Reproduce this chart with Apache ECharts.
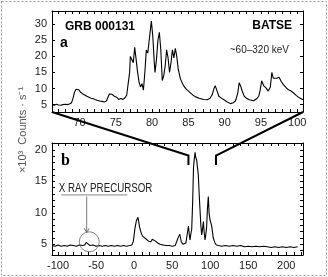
<!DOCTYPE html>
<html><head><meta charset="utf-8">
<script src="https://cdn.jsdelivr.net/npm/echarts@6/dist/echarts.min.js"></script>
<style>html,body{margin:0;padding:0;background:#fff}#c{width:328px;height:277px}</style>
</head><body><div id="c"></div>
<script>
// Panel a: zoom-in, time (s) and counts (x10^3 /s)
var topTime = [66.2,66.5,66.8,67.1,67.4,67.7,68.0,68.3,68.6,68.9,69.1,69.3,69.5,69.7,69.9,70.1,70.4,70.7,71.0,71.3,71.6,71.9,72.2,72.5,72.8,73.1,73.4,73.7,73.9,74.1,74.3,74.5,74.8,75.1,75.4,75.7,76.0,76.3,76.5,76.7,76.9,77.0,77.2,77.4,77.6,77.8,78.0,78.2,78.4,78.6,78.8,79.0,79.2,79.4,79.6,79.8,79.9,80.1,80.3,80.4,80.6,80.8,81.0,81.2,81.4,81.6,81.8,82.0,82.2,82.4,82.6,82.8,83.0,83.2,83.4,83.6,83.9,84.3,84.7,85.2,85.6,86.0,86.5,87.1,87.6,88.0,88.3,88.5,88.7,88.9,89.2,89.5,89.9,90.3,90.8,91.2,91.5,91.8,92.0,92.2,92.4,92.7,93.0,93.4,94.0,94.4,94.7,94.9,95.1,95.4,95.7,96.0,96.3,96.5,96.7,96.9,97.2,97.5,97.8,98.1,98.5,98.8,99.1,99.5,99.9,100.3,100.8];
var topCounts = [5.0,4.8,5.1,4.9,4.8,5.0,5.1,5.0,5.2,5.6,7.0,8.8,9.8,10.3,9.6,8.9,8.4,8.0,7.6,7.3,7.0,6.8,6.5,6.3,6.1,6.0,5.8,6.1,7.2,8.3,8.8,8.2,7.6,7.3,6.6,6.9,6.6,7.2,8.0,11.5,15.0,20.0,19.0,18.0,22.8,19.0,15.0,12.0,10.5,11.5,9.5,15.0,22.0,21.0,25.0,29.0,31.0,26.0,18.0,15.0,19.0,25.0,27.5,22.0,12.5,14.0,17.0,22.0,19.5,15.0,18.0,22.0,19.5,22.5,20.0,16.0,13.0,11.0,9.8,8.8,8.0,7.4,7.0,6.6,6.5,7.0,8.2,9.8,10.9,9.6,7.6,7.1,6.5,5.9,5.3,5.6,6.2,8.5,11.8,10.8,9.3,7.6,7.0,6.5,6.2,6.8,7.6,9.5,12.4,10.8,10.2,9.2,10.5,15.0,13.2,12.8,13.2,13.5,12.2,11.2,10.2,9.6,9.3,8.6,7.8,7.1,6.5];
// Panel b: full burst
var botTime = [-108,-104,-100,-96,-92,-88,-84,-80,-76,-72,-68,-65,-63,-61,-58,-54,-50,-46,-42,-38,-34,-30,-26,-22,-18,-14,-10,-6,-3,-1,1,3,5,6,7,9,11,13,16,19,22,24,26,28,31,34,38,42,46,50,54,56,58,60,61,62,64,66,68,70,71.4,72.5,73.5,74.5,75.7,77,78,79,80.1,81,82.2,83,84.4,85.5,86.6,87.7,88.8,90,91,92,93.2,94.2,95.3,96.3,97.5,98.5,99.7,100.7,101.8,103,104,106,108,111,115,120,125,130,135,140,145,150,155,160,165,170,175,180,185,190,195,200,205,210,215,222];
var botCounts = [4.8,4.7,4.9,4.7,4.8,4.7,4.9,4.8,4.7,4.9,4.8,4.9,5.3,5.0,4.8,4.9,4.7,4.8,4.7,4.8,4.7,4.8,4.7,4.8,4.7,4.8,4.7,4.8,4.9,5.5,7.5,8.8,9.3,8.6,7.8,6.9,6.3,6.0,5.8,5.5,5.4,5.8,5.9,5.5,5.2,5.0,4.9,4.8,4.8,4.7,4.8,5.0,6.1,6.6,6.0,5.4,5.0,4.9,5.2,6.8,7.9,6.5,5.7,6.6,7.4,12,17.1,18.5,19.6,18.8,18.4,17.5,16,13,10.5,8,6.5,7.5,8.6,7,5.7,6.5,7.8,10.5,12.6,10,8.9,8.5,8.0,7,6,5.3,4.9,4.8,4.7,4.8,4.7,4.8,4.7,4.8,4.6,4.7,4.6,4.7,4.6,4.7,4.6,4.5,4.6,4.5,4.6,4.5,4.6,4.5,4.6];
var topXLabels = [70,75,80,85,90,95,100];
var topYLabels = [5,10,15,20,25,30];
var botXLabels = [-100,-50,0,50,100,150,200];
var botYLabels = [5,10,15,20];

function pairs(a,b){var r=[];for(var i=0;i<a.length;i++)r.push([a[i],b[i]]);return r;}
function range(a,b,s){var r=[];for(var v=a;v<=b+1e-9;v+=s)r.push(Math.round(v*100)/100);return r;}

var lab = {fontFamily:'Liberation Sans, Arial, sans-serif',fontSize:11,color:'#222'};
function ax(grid,pos,min,max,labels,ticks,showLabel){
  return {type:'value',gridIndex:grid,position:pos,min:min,max:max,
    axisLine:{show:true,onZero:false,lineStyle:{color:'#000',width:1}},
    splitLine:{show:false},
    axisTick:{show:true,inside:true,length:3,customValues:ticks,lineStyle:{color:'#000'}},
    axisLabel:{show:showLabel,customValues:labels,margin:5,fontFamily:lab.fontFamily,fontSize:lab.fontSize,color:lab.color}};
}

var chart = echarts.init(document.getElementById('c'),null,{renderer:'canvas'});
var option = {
  backgroundColor:'#fff',
  animation:false,
  grid:[{left:52,top:11,right:25,height:101},{left:52,top:143,right:25,height:112}],
  xAxis:[
    ax(0,'bottom',66.2,100.8,topXLabels,range(67,100,1),true),
    ax(0,'top',66.2,100.8,topXLabels,range(67,100,1),false),
    ax(1,'bottom',-108,222,botXLabels,range(-100,220,10),true),
    ax(1,'top',-108,222,botXLabels,range(-100,220,10),false)
  ],
  yAxis:[
    ax(0,'left',2.7,34.1,topYLabels,topYLabels,true),
    ax(0,'right',2.7,34.1,topYLabels,topYLabels,false),
    ax(1,'left',3.3,21.1,botYLabels,range(4,21,1),true),
    ax(1,'right',3.3,21.1,botYLabels,range(4,21,1),false)
  ],
  series:[
    {type:'line',xAxisIndex:0,yAxisIndex:0,data:pairs(topTime,topCounts),showSymbol:false,lineStyle:{color:'#000',width:1.1}},
    {type:'line',xAxisIndex:2,yAxisIndex:2,data:pairs(botTime,botCounts),showSymbol:false,lineStyle:{color:'#000',width:1.1}}
  ]
};
chart.setOption(option);

function P(g,x,y){return chart.convertToPixel({gridIndex:g},[x,y]);}
var tl=P(0,66.2,2.7), tr=P(0,100.8,2.7);
var bl=P(1,71.4,19.1), bl2=P(1,71.4,17.6), br=P(1,107.6,19.1), br2=P(1,107.6,17.6);
var circ=P(1,-59,5.4);
var arTop=P(1,-62.4,12.6), arBot=P(1,-62.4,6.9);
var txt=P(1,-99,13.9), ul1=P(1,-96,12.85), ul2=P(1,-9,12.85);
var thick={stroke:'#000',lineWidth:2,fill:null};
chart.setOption({graphic:[
  {type:'rect',shape:{x:1.5,y:1.5,width:325,height:274},style:{fill:null,stroke:'#999',lineWidth:1,lineDash:[2,2]},z:100},
  {type:'polyline',shape:{points:[tl,bl,bl2]},style:thick,z:100},
  {type:'polyline',shape:{points:[tr,br,br2]},style:thick,z:100},
  {type:'circle',shape:{cx:circ[0],cy:circ[1],r:10},style:{fill:null,stroke:'#666',lineWidth:0.8},z:100},
  {type:'line',shape:{x1:arTop[0],y1:arTop[1],x2:arBot[0],y2:arBot[1]},style:{stroke:'#555',lineWidth:0.8},z:100},
  {type:'polyline',shape:{points:[[arBot[0]-2.5,arBot[1]-4],[arBot[0],arBot[1]],[arBot[0]+2.5,arBot[1]-4]]},style:{stroke:'#555',fill:null,lineWidth:0.8},z:100},
  {type:'line',shape:{x1:ul1[0],y1:ul1[1],x2:ul2[0],y2:ul2[1]},style:{stroke:'#666',lineWidth:0.8},z:100},
  {type:'text',x:txt[0],y:txt[1],scaleX:0.75,style:{text:'X RAY PRECURSOR',font:'13px "Liberation Sans", Arial, sans-serif',fill:'#222',textVerticalAlign:'middle'},z:100},
  {type:'text',x:65,y:27,style:{text:'GRB 000131',font:'bold 12px "Liberation Sans", Arial, sans-serif',fill:'#000',textVerticalAlign:'middle'},z:100},
  {type:'text',x:60,y:43,style:{text:'a',font:'bold 14px "Liberation Sans", Arial, sans-serif',fill:'#000',textVerticalAlign:'middle'},z:100},
  {type:'text',x:292,y:25.5,style:{text:'BATSE',font:'bold 12px "Liberation Sans", Arial, sans-serif',fill:'#000',textAlign:'right',textVerticalAlign:'middle'},z:100},
  {type:'text',x:289,y:50,style:{text:'~60\u2013320 keV',font:'10px "Liberation Sans", Arial, sans-serif',fill:'#222',textAlign:'right',textVerticalAlign:'middle'},z:100},
  {type:'text',x:61,y:161,style:{text:'b',font:'bold 16px "Liberation Serif", "Times New Roman", serif',fill:'#000',textVerticalAlign:'middle'},z:100},
  {type:'text',x:23,y:130,rotation:Math.PI/2,style:{text:'\u00d710\u00b3  Counts \u00b7 s\u207b\u00b9',font:'11px "Liberation Sans", Arial, sans-serif',fill:'#555',textAlign:'center',textVerticalAlign:'middle'},z:100}
]});
</script></body></html>
